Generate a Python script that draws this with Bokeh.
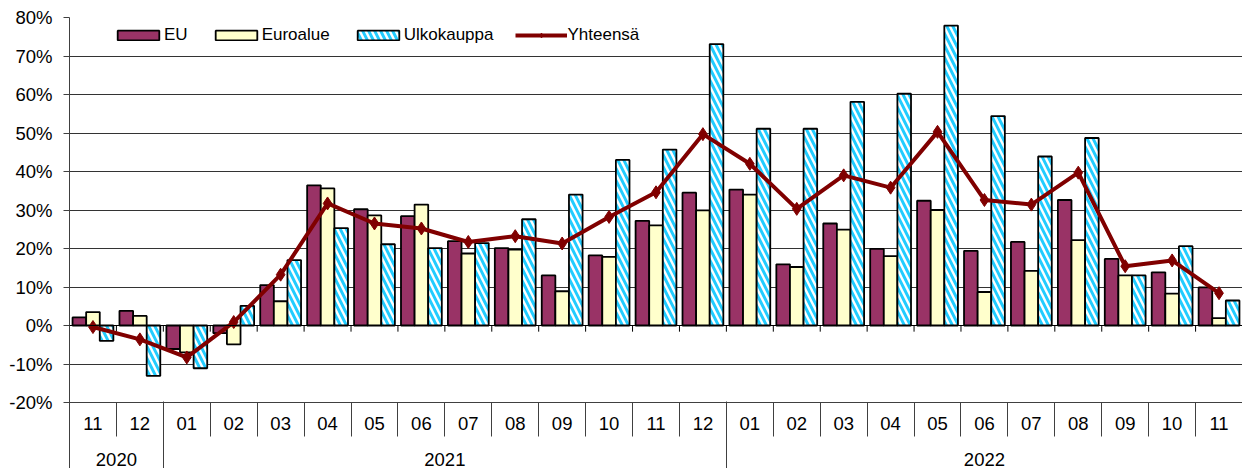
import numpy as np
from bokeh.plotting import figure
from bokeh.models import Range1d, LinearAxis, FixedTicker, Legend, LegendItem, Grid, Span
from bokeh.embed import file_html
from bokeh.resources import INLINE

months = ["11", "12", "01", "02", "03", "04", "05", "06", "07", "08", "09", "10", "11", "12",
          "01", "02", "03", "04", "05", "06", "07", "08", "09", "10", "11"]
years = ["2020", "2021", "2022"]
year_counts = [2, 12, 11]

eu = [2.1, 3.8, -6.1, -2.0, 10.5, 36.4, 30.2, 28.4, 21.9, 20.1, 13.0, 18.2, 27.2, 34.5,
      35.3, 15.9, 26.5, 19.9, 32.4, 19.4, 21.7, 32.6, 17.3, 13.8, 9.9]
euroalue = [3.5, 2.5, -7.0, -4.9, 6.3, 35.6, 28.6, 31.4, 18.7, 19.7, 8.9, 17.8, 26.0, 29.9,
            34.0, 15.2, 24.9, 18.0, 30.0, 8.7, 14.2, 22.2, 13.0, 8.3, 1.9]
ulkokauppa = [-4.0, -13.1, -11.1, 5.1, 17.0, 25.3, 21.1, 20.1, 21.4, 27.6, 34.0, 43.0, 45.7, 73.1,
              51.1, 51.1, 58.1, 60.2, 77.9, 54.4, 43.9, 48.7, 13.0, 20.6, 6.5]
yhteensa = [-0.4, -3.6, -8.3, 0.9, 13.2, 31.7, 26.5, 25.2, 21.7, 23.2, 21.3, 28.2, 34.6, 49.7,
            42.0, 30.3, 39.0, 35.8, 50.3, 32.6, 31.4, 39.7, 15.4, 16.9, 8.4]

FONT = "Liberation Sans"
n = len(months)
idx = np.arange(n)
centers = idx + 0.5
bw = 0.29

p = figure(width=1242, height=468, x_range=Range1d(0, n), y_range=Range1d(-20, 80),
           output_backend="svg", toolbar_location=None, x_axis_type=None, y_axis_type=None,
           min_border_left=69, min_border_right=0, min_border_top=17, min_border_bottom=0)
p.outline_line_color = None
p.background_fill_color = "white"

yt = FixedTicker(ticks=list(range(-20, 81, 10)))
p.add_layout(Grid(dimension=1, ticker=yt, grid_line_color="#333333", grid_line_width=1))

ya = LinearAxis(ticker=yt, major_label_overrides={v: f"{v}%" for v in range(-20, 81, 10)})
ya.major_tick_out = 6
ya.major_tick_in = 0
ya.axis_line_color = "#404040"
ya.major_tick_line_color = "#404040"
ya.major_label_text_font = FONT
ya.major_label_text_font_size = "18.5px"
ya.major_label_text_color = "black"
ya.major_label_standoff = 11
p.add_layout(ya, "left")

# month axis
mt = FixedTicker(ticks=[float(c) for c in centers], minor_ticks=[float(i) for i in range(n + 1)])
ma = LinearAxis(ticker=mt, major_label_overrides={float(c): m for c, m in zip(centers, months)})
ma.major_tick_out = 0
ma.major_tick_in = 0
ma.minor_tick_out = 0
ma.minor_tick_in = -34
ma.minor_tick_line_color = "#404040"
ma.axis_line_color = "#404040"
ma.major_label_text_font = FONT
ma.major_label_text_font_size = "18.5px"
ma.major_label_text_color = "black"
ma.major_label_standoff = 14
p.add_layout(ma, "below")

# year axis
starts = np.concatenate([[0], np.cumsum(year_counts)[:-1]])
ycent = [float(s + c / 2) for s, c in zip(starts, year_counts)]
ybounds = [float(b) for b in np.concatenate([[0], np.cumsum(year_counts)])]
yrt = FixedTicker(ticks=ycent, minor_ticks=ybounds)
yra = LinearAxis(ticker=yrt, major_label_overrides={c: y for c, y in zip(ycent, years)})
yra.major_tick_out = 0
yra.major_tick_in = 0
yra.minor_tick_in = 31
yra.minor_tick_out = 36
yra.minor_tick_line_color = "#404040"
yra.axis_line_color = None
yra.major_label_text_font = FONT
yra.major_label_text_font_size = "18.5px"
yra.major_label_text_color = "black"
yra.major_label_standoff = -16
p.add_layout(yra, "below")

# zero line and its small ticks
p.add_layout(Span(location=0, dimension="width", line_color="black", line_width=1))
p.segment(x0=idx[1:], y0=0, x1=idx[1:], y1=-1.6, line_color="black", line_width=1)

r1 = p.vbar(x=centers - bw, top=eu, bottom=0, width=bw, fill_color="#993366",
            line_color="black", line_width=1.8)
r2 = p.vbar(x=centers, top=euroalue, bottom=0, width=bw, fill_color="#FFFFCC",
            line_color="black", line_width=1.8)
r3 = p.vbar(x=centers + bw, top=ulkokauppa, bottom=0, width=bw, fill_color="white",
            hatch_pattern="\\", hatch_color="#22CCFF", hatch_weight=3, hatch_scale=12,
            line_color="black", line_width=1.8)
r4 = p.line(centers, yhteensa, line_color="#800000", line_width=4)
r5 = p.scatter(centers, yhteensa, marker="diamond", size=13, fill_color="#800000",
               line_color="#800000")

legend = Legend(items=[LegendItem(label="EU", renderers=[r1]),
                       LegendItem(label="Euroalue", renderers=[r2]),
                       LegendItem(label="Ulkokauppa", renderers=[r3]),
                       LegendItem(label="Yhteensä", renderers=[r4, r5])],
                orientation="horizontal", location=(43, 357), padding=0, margin=0,
                spacing=22, label_standoff=0, glyph_width=52, glyph_height=12,
                label_text_font=FONT, label_text_font_size="17px",
                label_text_color="black",
                background_fill_alpha=0, border_line_color=None)
p.add_layout(legend)

open("out.html", "w").write(file_html(p, INLINE))
